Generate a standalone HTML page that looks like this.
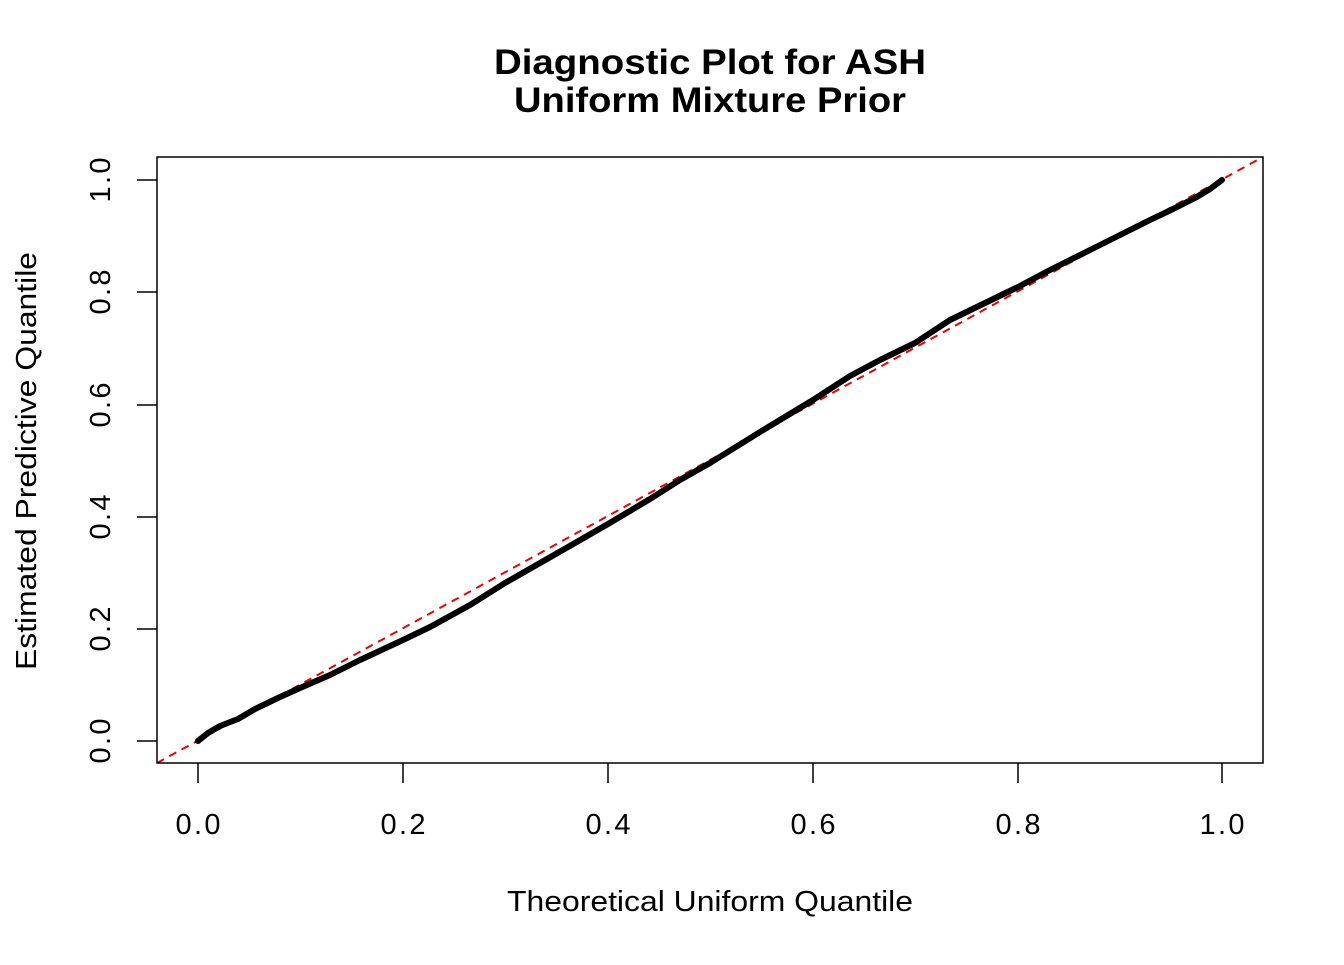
<!DOCTYPE html>
<html><head><style>body{margin:0;background:#fff}</style></head><body>
<svg width="1344" height="960" xmlns="http://www.w3.org/2000/svg" font-family="Liberation Sans, Arial, sans-serif">
<rect width="1344" height="960" fill="#fff"/>
<text x="710" y="74" font-size="35" font-weight="bold" text-anchor="middle" textLength="432" lengthAdjust="spacingAndGlyphs">Diagnostic Plot for ASH</text>
<text x="710" y="112" font-size="35" font-weight="bold" text-anchor="middle" textLength="392" lengthAdjust="spacingAndGlyphs">Uniform Mixture Prior</text>
<defs><clipPath id="c"><rect x="157" y="157" width="1106" height="606"/></clipPath></defs>
<line x1="157" y1="763" x2="1263" y2="157" stroke="#e00" stroke-width="2" stroke-dasharray="8,6" clip-path="url(#c)"/>
<polyline fill="none" stroke="#000" stroke-width="6" stroke-linejoin="round" stroke-linecap="round"
points="198,741 208,733 220,726 238,719 255,709 280,697 300,688 330,675 360,660 403,640 430,627 470,605 505,583 540,563 575,543 608,524 650,499 680,480 710,463 760,432 813,400 850,376 880,360 915,343 950,320 985,303 1018,287 1050,270 1090,250 1120,235 1150,220 1171,210 1195,198 1210,189 1222,180"/>
<rect x="157" y="157" width="1106" height="606" fill="none" stroke="#000" stroke-width="1.5"/>
<g stroke="#000" stroke-width="1.5">
<line x1="198" y1="763" x2="198" y2="783"/><line x1="403" y1="763" x2="403" y2="783"/><line x1="608" y1="763" x2="608" y2="783"/><line x1="813" y1="763" x2="813" y2="783"/><line x1="1018" y1="763" x2="1018" y2="783"/><line x1="1222" y1="763" x2="1222" y2="783"/>
<line x1="137" y1="741" x2="157" y2="741"/><line x1="137" y1="629" x2="157" y2="629"/><line x1="137" y1="517" x2="157" y2="517"/><line x1="137" y1="405" x2="157" y2="405"/><line x1="137" y1="292" x2="157" y2="292"/><line x1="137" y1="180" x2="157" y2="180"/>
</g>
<g font-size="29" text-anchor="middle">
<text x="198" y="834" textLength="45">0.0</text><text x="403" y="834" textLength="45">0.2</text><text x="608" y="834" textLength="45">0.4</text><text x="813" y="834" textLength="45">0.6</text><text x="1018" y="834" textLength="45">0.8</text><text x="1222" y="834" textLength="45">1.0</text>
<text transform="translate(110,741) rotate(-90)" textLength="45">0.0</text><text transform="translate(110,629) rotate(-90)" textLength="45">0.2</text><text transform="translate(110,517) rotate(-90)" textLength="45">0.4</text><text transform="translate(110,405) rotate(-90)" textLength="45">0.6</text><text transform="translate(110,292) rotate(-90)" textLength="45">0.8</text><text transform="translate(110,180) rotate(-90)" textLength="45">1.0</text>
<text x="710" y="911" textLength="406" lengthAdjust="spacingAndGlyphs">Theoretical Uniform Quantile</text>
<text transform="translate(36,461) rotate(-90)" textLength="418" lengthAdjust="spacingAndGlyphs">Estimated Predictive Quantile</text>
</g>
</svg>
</body></html>
